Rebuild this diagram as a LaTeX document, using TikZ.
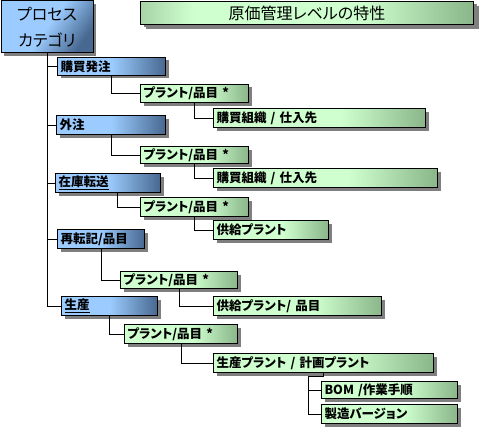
\documentclass[tikz,border=0pt]{standalone}
\usepackage{fontspec}
\usepackage{xcolor}
\newfontfamily\jpfont{Noto Sans CJK JP}[RawFeature=+palt]
\usetikzlibrary{shadows}
\definecolor{bluelite}{HTML}{9CCCFF}
\definecolor{bluedeep}{HTML}{476890}
\definecolor{greenlite}{HTML}{CFFFCF}
\definecolor{greenmid}{HTML}{A8D4A8}
\definecolor{greendeep}{HTML}{8AB68A}
\definecolor{shadowgray}{HTML}{7F7F7F}
\pgfdeclarehorizontalshading{bluefade}{100bp}{color(0bp)=(bluelite); color(25bp)=(bluelite); color(50bp)=(bluelite); color(75bp)=(bluedeep); color(100bp)=(bluedeep)}
\pgfdeclarehorizontalshading{greenfade}{100bp}{color(0bp)=(greenlite); color(25bp)=(greenlite); color(55bp)=(greenlite); color(75bp)=(greendeep); color(100bp)=(greendeep)}
\pgfdeclarehorizontalshading{titlefade}{100bp}{color(0bp)=(greenmid); color(25bp)=(greenmid); color(33bp)=(greenlite); color(58bp)=(greenlite); color(75bp)=(greendeep); color(100bp)=(greendeep)}

\begin{document}
\begin{tikzpicture}[
    x=1pt, y=-1pt,
    box/.style={draw=black, line width=1pt, anchor=north west,
                inner sep=0pt, inner xsep=3pt, align=left,
                font=\jpfont\bfseries\fontsize{12.5}{14}\selectfont,
                drop shadow={shadow xshift=3pt, shadow yshift=-3pt,
                             fill=shadowgray, opacity=1}},
    catbox/.style={box, shading=bluefade, shading angle=-35, align=center,
                   font=\jpfont\fontsize{16}{26}\selectfont},
    titlebox/.style={box, shading=titlefade, align=center,
                     font=\jpfont\fontsize{16}{18}\selectfont,
                     drop shadow={shadow xshift=5pt, shadow yshift=-5pt,
                                  fill=shadowgray, opacity=1}},
    procbox/.style={box, shading=bluefade},
    levelbox/.style={box, shading=greenfade},
    link/.style={draw=black, line width=1pt}
]
\useasboundingbox (0,0) rectangle (481,433);

% heading boxes
\node[catbox, minimum width=92pt, minimum height=52pt] (cat) at (0.5,0.5) {プロセス\\カテゴリ};
\node[titlebox, minimum width=333pt, minimum height=23pt] (title) at (140,1) {原価管理レベルの特性};

% process categories
\node[procbox, text width=102pt, minimum height=18pt] (order) at (57,57) {購買発注};
\node[procbox, text width=103pt, minimum height=19pt] (sub) at (56,115) {外注};
\node[procbox, text width=99pt, minimum height=19pt] (stock) at (55,173) {\underline{在庫転送}};
\node[procbox, text width=81pt, minimum height=19pt] (repost) at (57,229) {再転記/品目};
\node[procbox, text width=90pt, minimum height=19pt] (prod) at (61,296) {\underline{生産}};

% plant / material levels
\node[levelbox, text width=102pt, minimum height=18pt] (order-pm) at (140,84) {プラント/品目 *};
\node[levelbox, text width=102pt, minimum height=17pt] (sub-pm) at (140,146) {プラント/品目 *};
\node[levelbox, text width=102pt, minimum height=19pt] (stock-pm) at (140,197) {プラント/品目 *};
\node[levelbox, text width=111pt, minimum height=17pt] (repost-pm) at (120,271) {プラント/品目 *};
\node[levelbox, text width=107pt, minimum height=19pt] (prod-pm) at (124,324) {プラント/品目 *};

% detail levels
\node[levelbox, text width=206pt, minimum height=19pt] (order-org) at (213,108) {購買組織 / 仕入先};
\node[levelbox, text width=218pt, minimum height=19pt] (sub-org) at (213,168) {購買組織 / 仕入先};
\node[levelbox, text width=109pt, minimum height=19pt] (stock-sp) at (213,220) {供給プラント};
\node[levelbox, text width=162pt, minimum height=19pt] (repost-sp) at (213,296) {供給プラント/ 品目};
\node[levelbox, text width=214pt, minimum height=19pt] (prod-plan) at (213,353) {生産プラント / 計画プラント};
\node[levelbox, text width=130pt, minimum height=17pt] (bom) at (321,381) {BOM /作業手順};
\node[levelbox, text width=130pt, minimum height=19pt] (version) at (321,404) {製造バージョン};

% connectors
\draw[link] (cat.south) |- (order.west);
\draw[link] (cat.south) |- (sub.west);
\draw[link] (cat.south) |- (stock.west);
\draw[link] (cat.south) |- (repost.west);
\draw[link] (cat.south) |- (prod.west);
\draw[link] (order.south) |- (order-pm.west);
\draw[link] (sub.south) |- (sub-pm.west);
\draw[link] ([xshift=9.5pt]stock.south) |- (stock-pm.west);
\draw[link] (repost.south) |- (repost-pm.west);
\draw[link] (prod.south) |- (prod-pm.west);
\draw[link] (order-pm.south) |- (order-org.west);
\draw[link] (sub-pm.south) |- (sub-org.west);
\draw[link] (stock-pm.south) |- (stock-sp.west);
\draw[link] (repost-pm.south) |- (repost-sp.west);
\draw[link] (prod-pm.south) |- (prod-plan.west);
\coordinate (fork) at (308,376);
\draw[link] (prod-plan.south) |- (fork) |- (version.west);
\draw[link] (fork) |- (bom.west);
\end{tikzpicture}
\end{document}
